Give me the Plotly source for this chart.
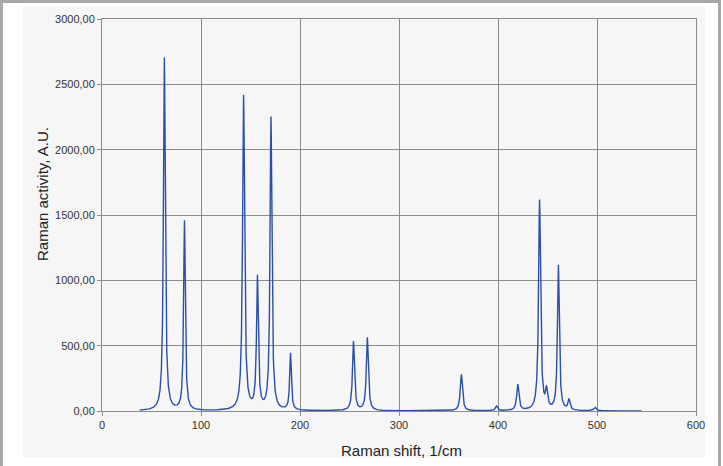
import numpy as np
import plotly.graph_objects as go

# Peak data (position 1/cm, intensity A.U., half-width 1/cm)
peak_pos = [63.0, 83.3, 143.0, 157.0, 170.7, 190.4, 254.0, 268.0, 363.0, 398.5,
            420.0, 442.0, 449.0, 461.0, 471.7, 498.0]
peak_int = [2700, 1450, 2410, 1010, 2240, 435, 530, 560, 280, 36,
            200, 1610, 140, 1110, 80, 27]
peak_hw = [1.1, 1.0, 1.2, 1.1, 1.1, 1.0, 1.2, 1.2, 1.3, 1.3,
           1.3, 1.2, 1.2, 1.1, 1.2, 1.5]
x_start, x_end = 38, 545

x_ticks = [0, 100, 200, 300, 400, 500, 600]
y_ticks = [0, 500, 1000, 1500, 2000, 2500, 3000]

x = np.arange(x_start, x_end + 0.01, 0.1)
y = np.zeros_like(x)
for p, a, g in zip(peak_pos, peak_int, peak_hw):
    y += a * g**2 / ((x - p) ** 2 + g**2)

fig = go.Figure()
fig.add_trace(go.Scatter(x=x, y=y, mode="lines",
                         line=dict(color="#2b4fa8", width=1.4), showlegend=False))

L, R, T, B = 102, 27, 19, 55
W, H = 723, 466
pw, ph = W - L - R, H - T - B

def px(v):
    return (v - L) / pw

def py(v):
    return (H - B - v) / ph

fig.update_layout(
    width=W, height=H,
    margin=dict(l=L, r=R, t=T, b=B),
    paper_bgcolor="white",
    plot_bgcolor="#f6f6f6",
    separators=",.",
    font=dict(family="Liberation Sans, Arial, sans-serif", color="#333333"),
    shapes=[
        dict(type="rect", xref="paper", yref="paper",
             x0=px(23), x1=px(705), y0=py(458), y1=py(7),
             fillcolor="#f6f6f6", line=dict(width=0), layer="below"),
        dict(type="rect", xref="paper", yref="paper",
             x0=px(1.5), x1=px(719.5), y0=py(475), y1=py(1.5),
             fillcolor="rgba(0,0,0,0)", line=dict(color="#a8a8a8", width=3)),
    ],
    annotations=[
        dict(text="Raman shift, 1/cm", xref="paper", yref="paper",
             x=px(401), y=py(450), showarrow=False, xanchor="center", yanchor="middle",
             font=dict(size=15, color="#222222")),
        dict(text="Raman activity, A.U.", xref="paper", yref="paper",
             x=px(42), y=py(194), showarrow=False, xanchor="center", yanchor="middle",
             textangle=-90, font=dict(size=15, color="#222222")),
    ],
)
fig.update_xaxes(
    range=[0, 600], tickvals=x_ticks, ticktext=[str(v) for v in x_ticks],
    showgrid=True, gridcolor="#8c8c8c", gridwidth=1,
    showline=True, linecolor="#8c8c8c", mirror=True, zeroline=False,
    ticks="outside", ticklen=4, tickcolor="#8c8c8c",
    tickfont=dict(size=11, color="#333333"),
)
fig.update_yaxes(
    range=[0, 3000], tickvals=y_ticks, tickformat=".2f",
    showgrid=True, gridcolor="#8c8c8c", gridwidth=1,
    showline=True, linecolor="#8c8c8c", mirror=True, zeroline=False,
    ticks="outside", ticklen=4, tickcolor="#8c8c8c",
    tickfont=dict(size=11, color="#333333"),
)

fig.write_html("out.html")
